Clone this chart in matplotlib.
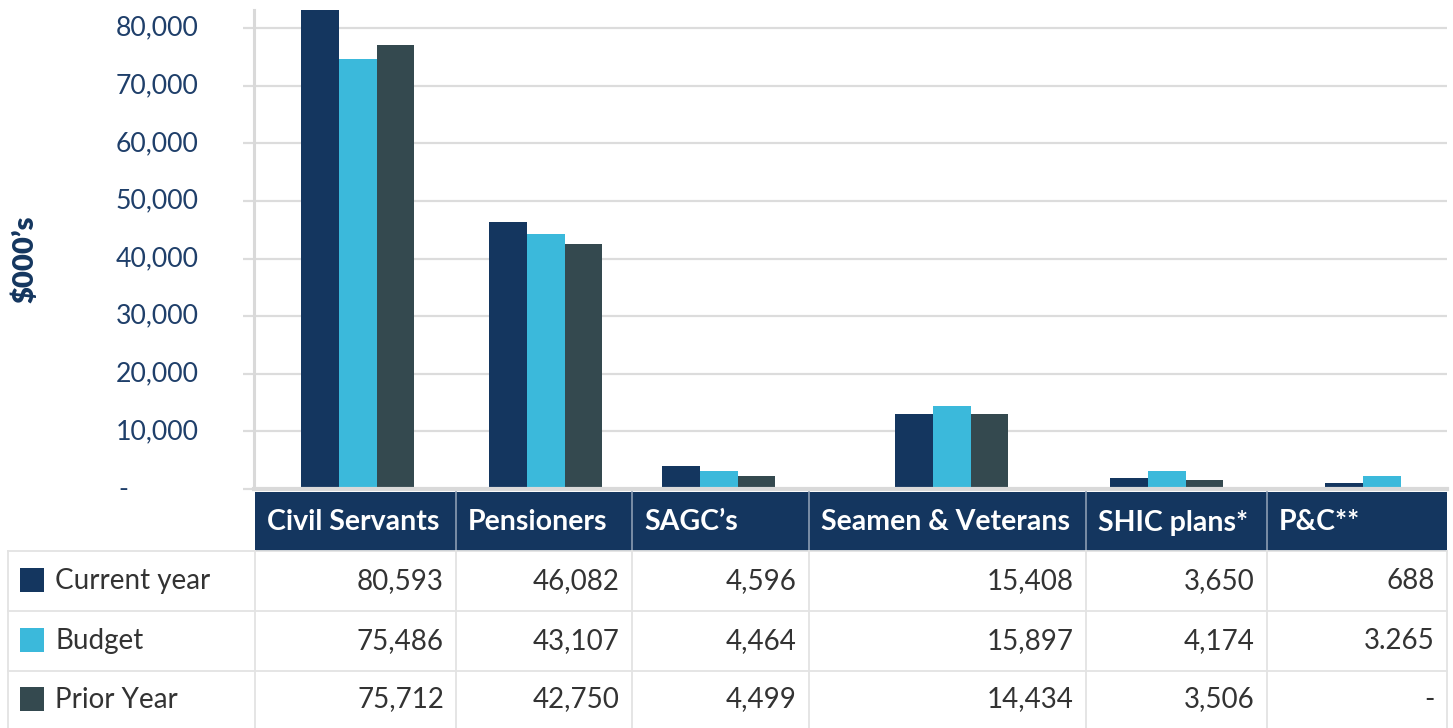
import matplotlib
matplotlib.use("Agg")
import matplotlib.pyplot as plt
from matplotlib.patches import Rectangle
from matplotlib.transforms import blended_transform_factory

plt.rcParams['font.family'] = ['Lato', 'DejaVu Sans']

# ---------------- data ----------------
categories = ["Civil Servants", "Pensioners", "SAGC\u2019s", "Seamen & Veterans", "SHIC plans*", "P&C**"]
series_names = ["Current year", "Budget", "Prior Year"]
# bar heights as drawn in the chart ($000's)
current_year = [83100, 46400, 4000, 13000, 1900, 1050]
budget = [74600, 44200, 3150, 14400, 3150, 2250]
prior_year = [77000, 42600, 2250, 13000, 1550, 0]
# table texts
table_current = ["80,593", "46,082", "4,596", "15,408", "3,650", "688"]
table_budget = ["75,486", "43,107", "4,464", "15,897", "4,174", "3.265"]
table_prior = ["75,712", "42,750", "4,499", "14,434", "3,506", "-"]
y_ticks = [0, 10000, 20000, 30000, 40000, 50000, 60000, 70000, 80000]
y_tick_labels = ["-", "10,000", "20,000", "30,000", "40,000", "50,000", "60,000", "70,000", "80,000"]
y_label = "\\$000\u2019s"

# ---------------- style / layout ----------------
W, H = 1453, 728
C_NAVY = "#14365f"
C_CYAN = "#3bb9db"
C_SLATE = "#34494f"
colors = [C_NAVY, C_CYAN, C_SLATE]
TICK_COLOR = "#1f3f6a"
TEXT_COLOR = "#333333"
GRID = "#dcdcdc"
BORDER = "#e3e3e3"

ax_left, ax_right, ax_top, ax_bottom = 254, 1447, 10, 489
group_centers = [357.7, 545.7, 718.7, 951.7, 1166.7, 1381.7]   # pixel layout
bar_w = 37.8
col_edges = [8, 255, 456, 632, 809, 1086, 1267, 1447]
row_edges = [492, 551, 611, 671, 728]

fig = plt.figure(figsize=(W / 100, H / 100), dpi=100)
fig.patch.set_facecolor("white")

ax = fig.add_axes([ax_left / W, 1 - ax_bottom / H, (ax_right - ax_left) / W, (ax_bottom - ax_top) / H])
ymax = 83160
ax.set_xlim(ax_left, ax_right)
ax.set_ylim(0, ymax)

for i, (vals, col) in enumerate(zip([current_year, budget, prior_year], colors)):
    xs = [c + (i - 1) * bar_w for c in group_centers]
    ax.bar(xs, vals, width=bar_w, color=col, linewidth=0, zorder=3)

for t in y_ticks[1:]:
    ax.axhline(t, xmin=0, xmax=1, color=GRID, lw=1.6, zorder=1)
ax.set_yticks(y_ticks)
ax.set_yticklabels([])
ax.tick_params(axis='y', length=8, width=1.6, color=GRID)
ax.set_xticks([])
for s in ["top", "right", "bottom"]:
    ax.spines[s].set_visible(False)
ax.spines["left"].set_color("#d9d9d9")
ax.spines["left"].set_linewidth(2.2)
ax.spines["left"].set_bounds(0, ymax)

ax.axhline(0, color="#d9d9d9", lw=3, zorder=4, clip_on=False)

# tick labels, left aligned like accounting format
trans = blended_transform_factory(fig.transFigure, ax.transData)
for t, lab in zip(y_ticks, y_tick_labels):
    xpos = 116 if lab != "-" else 118
    ax.text(xpos / W, t, lab, transform=trans, ha="left", va="center",
            fontsize=19.2, color=TICK_COLOR, clip_on=False)

fig.text(25 / W, 1 - 259 / H, y_label, rotation=90, ha="center", va="center",
         fontsize=21, fontweight="heavy", color=C_NAVY)

# ---------------- table overlay ----------------
ov = fig.add_axes([0, 0, 1, 1], zorder=5)
ov.set_xlim(0, W)
ov.set_ylim(H, 0)
ov.axis("off")
ov.patch.set_alpha(0)

hy0, hy1 = row_edges[0], row_edges[1]
ov.add_patch(Rectangle((col_edges[1], hy0), col_edges[-1] - col_edges[1], hy1 - hy0,
                       facecolor=C_NAVY, edgecolor="none"))
for k, cat in enumerate(categories):
    x0 = col_edges[k + 1]
    ov.text(x0 + 12, (hy0 + hy1) / 2 + 1, cat, ha="left", va="center",
            fontsize=20.5, fontweight="bold", color="white")
for x in col_edges[2:-1]:
    ov.plot([x, x], [hy0, hy1], color="#8c9db3", lw=1.2)

rows = [table_current, table_budget, table_prior]
for r in range(3):
    y0, y1 = row_edges[r + 1], row_edges[r + 2]
    ov.plot([col_edges[0], col_edges[-1]], [y0, y0], color=BORDER, lw=1.3)
    yc = (y0 + y1) / 2
    ov.add_patch(Rectangle((20, yc - 12 - 1), 24, 24, facecolor=colors[r], edgecolor="none"))
    ov.text(55, yc, series_names[r], ha="left", va="center", fontsize=20, color=TEXT_COLOR)
    for k, txt in enumerate(rows[r]):
        ov.text(col_edges[k + 2] - 12, yc, txt, ha="right", va="center",
                fontsize=20, color=TEXT_COLOR)
for x in col_edges:
    ov.plot([x, x], [row_edges[1], H], color=BORDER, lw=1.3)

fig.savefig("out.png", dpi=100, facecolor="white")
